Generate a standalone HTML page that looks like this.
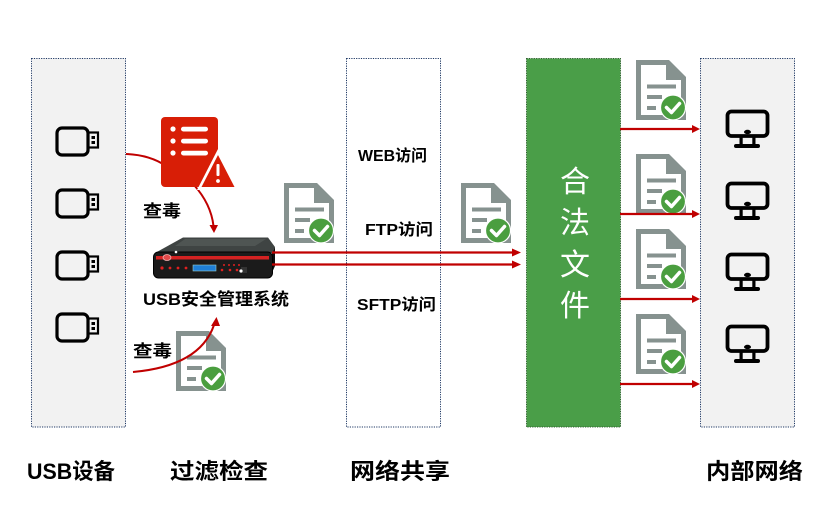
<!DOCTYPE html>
<html><head><meta charset="utf-8">
<style>
html,body{margin:0;padding:0;background:#fff;}
svg{display:block;}
text{font-family:"Liberation Sans","Noto Sans CJK SC",sans-serif;}
</style></head>
<body>
<svg width="832" height="532" viewBox="0 0 832 532" xmlns="http://www.w3.org/2000/svg">
<defs>
  <symbol id="doc" viewBox="0 0 50 60">
    <path d="M0,0 H33 L50,17 V60 H0 Z" fill="#86928f"/>
    <path d="M5,5 H30 V20 H45 V55 H5 Z" fill="#fff"/>
    <rect x="11" y="24.5" width="29" height="4" fill="#86928f"/>
    <rect x="11" y="35" width="15" height="4" fill="#86928f"/>
    <rect x="11" y="46" width="9" height="4" fill="#86928f"/>
    <circle cx="37" cy="47.5" r="12.5" fill="#4a9e3f" stroke="#fff" stroke-width="1.2"/>
    <path d="M30.5,47.5 L35.5,52.5 L43.5,43.5" fill="none" stroke="#fff" stroke-width="3.5" stroke-linecap="round" stroke-linejoin="round"/>
  </symbol>
  <symbol id="usb" viewBox="0 0 46 32">
    <rect x="2" y="2" width="31" height="27" rx="5" fill="none" stroke="#000" stroke-width="3.2"/>
    <rect x="33" y="6.5" width="10" height="15" fill="none" stroke="#000" stroke-width="2.2"/>
    <rect x="36.5" y="10" width="3.5" height="3" fill="#000"/>
    <rect x="36.5" y="15" width="3.5" height="3" fill="#000"/>
  </symbol>
  <symbol id="mon" viewBox="0 0 46 40">
    <rect x="2.5" y="2.5" width="40" height="24.5" rx="4" fill="none" stroke="#000" stroke-width="3.8"/>
    <ellipse cx="22.5" cy="23" rx="3.5" ry="2.2" fill="#000"/>
    <rect x="14.5" y="27" width="3.2" height="9" fill="#000"/>
    <rect x="27.3" y="27" width="3.2" height="9" fill="#000"/>
    <rect x="9" y="35" width="26" height="4" rx="2" fill="#000"/>
  </symbol>
</defs>

<!-- columns -->
<rect x="31.5" y="58.5" width="94" height="368.5" fill="#f2f2f2" stroke="#1f3864" stroke-width="1" stroke-dasharray="1.2 1.2"/>
<rect x="346.5" y="58.5" width="94" height="368.5" fill="#fff" stroke="#1f3864" stroke-width="1" stroke-dasharray="1.2 1.2"/>
<rect x="526.5" y="58.5" width="94" height="368.5" fill="#4a9e48" stroke="#2f5f2f" stroke-width="1" stroke-dasharray="1.2 1.2"/>
<rect x="700.5" y="58.5" width="94" height="368.5" fill="#f2f2f2" stroke="#1f3864" stroke-width="1" stroke-dasharray="1.2 1.2"/>

<!-- USB icons -->
<use href="#usb" x="55" y="126" width="46" height="32"/>
<use href="#usb" x="55" y="188" width="46" height="32"/>
<use href="#usb" x="55" y="250" width="46" height="32"/>
<use href="#usb" x="55" y="312" width="46" height="32"/>

<!-- curves -->
<path d="M126,154 Q150,155 166,166" fill="none" stroke="#c00000" stroke-width="2"/>
<path d="M194,185 Q211,204 213.5,226" fill="none" stroke="#c00000" stroke-width="2"/>
<path d="M209.5,225 L218,225 L214,233 Z" fill="#c00000"/>

<!-- red warning doc -->
<rect x="161" y="117" width="57" height="70" rx="4" fill="#d81e06"/>
<circle cx="173" cy="129" r="2.6" fill="#fff"/>
<circle cx="173" cy="141" r="2.6" fill="#fff"/>
<circle cx="173" cy="153" r="2.6" fill="#fff"/>
<rect x="181" y="126.7" width="27" height="4.8" rx="2.4" fill="#fff"/>
<rect x="181" y="138.7" width="27" height="4.8" rx="2.4" fill="#fff"/>
<rect x="181" y="150.7" width="27" height="4.8" rx="2.4" fill="#fff"/>
<polygon points="218,149 197,190 239,190" fill="#fff"/>
<polygon points="218,155 201.5,187 234.5,187" fill="#d81e06"/>
<rect x="216.5" y="164" width="3" height="12" rx="1" fill="#fff"/>
<circle cx="218" cy="181" r="1.9" fill="#fff"/>

<text x="143" y="217" font-size="17" font-weight="bold" textLength="38" lengthAdjust="spacingAndGlyphs">查毒</text>

<!-- device -->
<polygon points="155,253 183,237.5 268,237.5 275,247 272,253" fill="#3f4443"/>
<polygon points="185,239 266,239 255,246 175,246" fill="#5a605f" opacity="0.6"/>
<polygon points="272,253 275,247 275,266 270,277" fill="#0d0d0d"/>
<rect x="153.5" y="252" width="119" height="26" rx="5" fill="#1b1b1b" stroke="#000" stroke-width="1"/>
<rect x="156" y="256" width="113" height="3.5" fill="#d42222"/>
<ellipse cx="167" cy="257.5" rx="4" ry="3" fill="#e24a4a" stroke="#f3b0b0" stroke-width="0.8"/>
<circle cx="162" cy="268" r="1.6" fill="#e02020"/>
<circle cx="170" cy="268" r="1.4" fill="#e02020"/>
<circle cx="178" cy="268" r="1.4" fill="#e02020"/>
<circle cx="186" cy="268" r="1.4" fill="#e02020"/>
<rect x="193" y="265" width="23" height="6" fill="#1f7fd6" stroke="#9cc" stroke-width="0.6"/>
<circle cx="224" cy="265" r="1" fill="#e02020"/>
<circle cx="229" cy="265" r="1" fill="#e02020"/>
<circle cx="234" cy="265" r="1" fill="#e02020"/>
<circle cx="239" cy="265" r="1" fill="#e02020"/>
<circle cx="222" cy="270" r="1.3" fill="#e02020"/>
<circle cx="230" cy="270" r="1.3" fill="#e02020"/>
<circle cx="237" cy="270" r="1.3" fill="#e02020"/>
<rect x="241" y="267" width="6" height="6" fill="#333"/>
<circle cx="241" cy="271" r="1.6" fill="#fff"/>
<circle cx="176" cy="252" r="1.3" fill="#fff"/>

<text x="143" y="305" font-size="17" font-weight="bold" textLength="146" lengthAdjust="spacingAndGlyphs">USB安全管理系统</text>

<!-- lower doc + label + curve (curve drawn over doc) -->
<use href="#doc" x="176" y="331" width="50" height="60"/>
<path d="M133,372 Q200,366 214,325" fill="none" stroke="#c00000" stroke-width="2"/>
<path d="M211,326 L220,326 L216.5,317 Z" fill="#c00000"/>
<text x="133" y="357" font-size="17" font-weight="bold" textLength="39" lengthAdjust="spacingAndGlyphs">查毒</text>

<!-- upper middle doc -->
<use href="#doc" x="284" y="183" width="50" height="60"/>

<!-- device to green arrows -->
<line x1="272" y1="252.5" x2="513" y2="252.5" stroke="#c00000" stroke-width="2.2"/>
<line x1="272" y1="264.5" x2="513" y2="264.5" stroke="#c00000" stroke-width="2.2"/>
<polygon points="512,248.5 521,252.5 512,256.5" fill="#c00000"/>
<polygon points="512,260.5 521,264.5 512,268.5" fill="#c00000"/>

<text x="358" y="161" font-size="16" font-weight="bold" textLength="69" lengthAdjust="spacingAndGlyphs">WEB访问</text>
<text x="365" y="235" font-size="16" font-weight="bold" textLength="68" lengthAdjust="spacingAndGlyphs">FTP访问</text>
<text x="357" y="310" font-size="16" font-weight="bold" textLength="79" lengthAdjust="spacingAndGlyphs">SFTP访问</text>

<use href="#doc" x="461" y="183" width="50" height="60"/>

<!-- green column text -->
<g fill="#fff" font-size="30" text-anchor="middle">
  <text x="575" y="192">合</text>
  <text x="575" y="233">法</text>
  <text x="575" y="275">文</text>
  <text x="575" y="316">件</text>
</g>

<!-- right docs -->
<use href="#doc" x="636" y="60" width="50" height="60"/>
<use href="#doc" x="636" y="154" width="50" height="60"/>
<use href="#doc" x="636" y="229" width="50" height="60"/>
<use href="#doc" x="636" y="314" width="50" height="60"/>

<!-- right arrows -->
<g stroke="#c00000" stroke-width="2.2">
  <line x1="620" y1="129" x2="693" y2="129"/>
  <line x1="620" y1="214" x2="693" y2="214"/>
  <line x1="620" y1="299" x2="693" y2="299"/>
  <line x1="620" y1="384" x2="693" y2="384"/>
</g>
<g fill="#c00000">
  <polygon points="692,125 700,129 692,133"/>
  <polygon points="692,210 700,214 692,218"/>
  <polygon points="692,295 700,299 692,303"/>
  <polygon points="692,380 700,384 692,388"/>
</g>

<!-- monitors -->
<use href="#mon" x="725" y="109" width="46" height="40"/>
<use href="#mon" x="725" y="181" width="46" height="40"/>
<use href="#mon" x="725" y="252" width="46" height="40"/>
<use href="#mon" x="725" y="324" width="46" height="40"/>

<!-- bottom labels -->
<g font-size="22" font-weight="bold">
  <text x="27" y="479" textLength="88" lengthAdjust="spacingAndGlyphs">USB设备</text>
  <text x="170" y="479" textLength="98" lengthAdjust="spacingAndGlyphs">过滤检查</text>
  <text x="350" y="479" textLength="100" lengthAdjust="spacingAndGlyphs">网络共享</text>
  <text x="706" y="479" textLength="97" lengthAdjust="spacingAndGlyphs">内部网络</text>
</g>
</svg>
</body></html>
